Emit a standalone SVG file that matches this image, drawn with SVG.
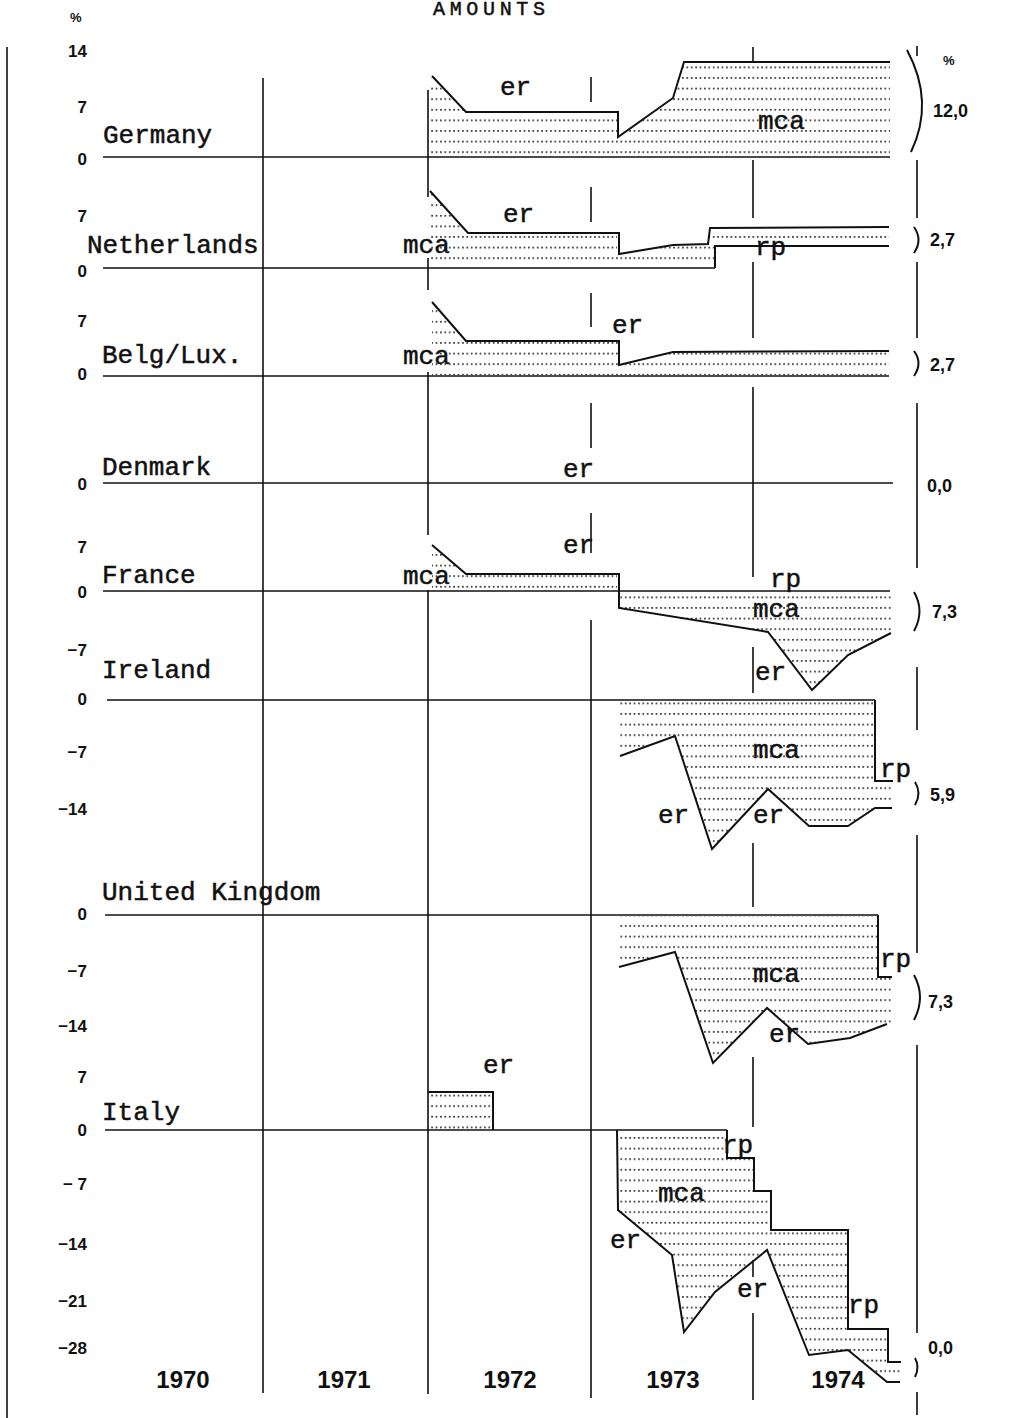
<svg xmlns="http://www.w3.org/2000/svg" width="1010" height="1418" viewBox="0 0 1010 1418">
<defs>
<pattern id="dots" width="4.4" height="10.6" patternUnits="userSpaceOnUse"><rect x="0" y="3" width="1.8" height="1.5" fill="#222"/></pattern>
<style>
.ln{stroke:#111;stroke-width:1.6;fill:none}
.ol{stroke:#111;stroke-width:2;fill:none;stroke-linejoin:miter}
.sh{fill:url(#dots);stroke:none}
.tw{font-family:"Liberation Mono",monospace;font-size:26px;fill:#111;stroke:#111;stroke-width:0.5}
.ax{font-family:"Liberation Sans",Arial,sans-serif;font-weight:bold;font-size:17px;fill:#111;text-anchor:end}
.rt{font-family:"Liberation Sans",Arial,sans-serif;font-weight:bold;font-size:18px;fill:#111}
.yr{font-family:"Liberation Sans",Arial,sans-serif;font-weight:bold;font-size:24px;fill:#111;text-anchor:middle}
</style>
</defs>
<rect width="1010" height="1418" fill="#fff"/>
<text class="tw" x="433" y="15" style="font-size:20px" textLength="112" lengthAdjust="spacing">AMOUNTS</text>
<text class="rt" x="70" y="22" style="font-size:13px">%</text>

<g id="grid">
<path class="ln" d="M7,47V1418"/>
<path class="ln" d="M263,78V1393"/>
<path class="ln" d="M428,90V197M428,258V290M428,372V535M428,590V1394"/>
<path class="ln" d="M591,77V102M591,187V222M591,293V327M591,403V448M591,513V553M591,620V1398"/>
<path class="ln" d="M753,47V62M753,160V218M753,262V338M753,387V577M753,647V693M753,843V907M753,1057V1127M753,1260V1277M753,1313V1400"/>
<path class="ln" d="M917,46V56M917,160V218M917,262V338M917,403V568M917,667V730M917,835V953M917,1045V1333M917,1392V1415"/>
</g>

<g id="germany">
<polygon class="sh" points="431,78 466,112 617,112 617,137 673,98 684,62 890,62 890,156 431,156"/>
<path class="ln" d="M103,157H890"/>
<polyline class="ol" points="432,76 466,112 618,112 618,137 673,98 684,62 890,62"/>
<text class="ax" x="87" y="57">14</text>
<text class="ax" x="87" y="113">7</text>
<text class="ax" x="87" y="165">0</text>
<text class="tw" x="103" y="143">Germany</text>
<text class="tw" x="500" y="95">er</text>
<text class="tw" x="758" y="129">mca</text>
<path class="ol" d="M907,50Q935,102 911,152"/>
<text class="rt" x="943" y="65" style="font-size:13px">%</text>
<text class="rt" x="933" y="117">12,0</text>
</g>

<g id="netherlands">
<polygon class="sh" points="431,193 468,233 617,233 617,254 673,245 708,244 710,228 889,228 889,246 716,246 716,267 431,267"/>
<path class="ln" d="M103,268H715"/>
<polyline class="ol" points="430,191 468,233 619,233 619,254 673,245 708,244 710,228 889,227"/>
<polyline class="ol" points="715,268 715,246 889,246"/>
<text class="ax" x="87" y="222">7</text>
<text class="ax" x="87" y="277">0</text>
<text class="tw" x="87" y="253">Netherlands</text>
<text class="tw" x="503" y="222">er</text>
<text class="tw" x="403" y="253">mca</text>
<text class="tw" x="755" y="255">rp</text>
<path class="ol" d="M914,227Q923,240 914,253"/>
<text class="rt" x="930" y="246">2,7</text>
</g>

<g id="belglux">
<polygon class="sh" points="432,303 466,341 619,341 619,365 673,352 889,351 889,375 432,375"/>
<path class="ln" d="M103,376H889"/>
<polyline class="ol" points="432,302 466,341 619,341 619,365 673,352 889,351"/>
<text class="ax" x="87" y="327">7</text>
<text class="ax" x="87" y="380">0</text>
<text class="tw" x="102" y="363">Belg/Lux.</text>
<text class="tw" x="403" y="364">mca</text>
<text class="tw" x="612" y="333">er</text>
<path class="ol" d="M914,351Q923,363 914,376"/>
<text class="rt" x="930" y="371">2,7</text>
</g>

<g id="denmark">
<path class="ln" d="M103,483H893"/>
<text class="ax" x="87" y="490">0</text>
<text class="tw" x="102" y="475">Denmark</text>
<text class="tw" x="563" y="477">er</text>
<text class="rt" x="927" y="492">0,0</text>
</g>

<g id="france">
<polygon class="sh" points="432,546 466,574 617,574 617,590 432,590"/>
<polygon class="sh" points="619,591 891,591 891,633 848,655 812,690 768,632 619,608"/>
<path class="ln" d="M103,591H890"/>
<polyline class="ol" points="432,545 466,574 619,574 619,608 768,632 812,690 848,655 891,633"/>
<text class="ax" x="87" y="553">7</text>
<text class="ax" x="87" y="598">0</text>
<text class="ax" x="87" y="656">−7</text>
<text class="tw" x="102" y="583">France</text>
<text class="tw" x="403" y="584">mca</text>
<text class="tw" x="563" y="553">er</text>
<text class="tw" x="770" y="587">rp</text>
<text class="tw" x="753" y="617">mca</text>
<text class="tw" x="755" y="680">er</text>
<path class="ol" d="M914,592Q925,611 914,631"/>
<text class="rt" x="932" y="618">7,3</text>
</g>

<g id="ireland">
<polygon class="sh" points="620,701 875,701 875,781 892,781 892,808 875,808 848,826 809,826 768,789 712,849 675,736 620,756"/>
<path class="ln" d="M107,700H875"/>
<polyline class="ol" points="875,700 875,781 893,781"/>
<polyline class="ol" points="620,756 675,736 712,849 768,789 809,826 848,826 875,808 892,808"/>
<text class="ax" x="87" y="705">0</text>
<text class="ax" x="87" y="758">−7</text>
<text class="ax" x="87" y="815">−14</text>
<text class="tw" x="102" y="678">Ireland</text>
<text class="tw" x="753" y="758">mca</text>
<text class="tw" x="880" y="777">rp</text>
<text class="tw" x="658" y="823">er</text>
<text class="tw" x="753" y="823">er</text>
<path class="ol" d="M915,782Q922,793 915,805"/>
<text class="rt" x="930" y="801">5,9</text>
</g>

<g id="uk">
<polygon class="sh" points="619,916 878,916 878,977 892,977 892,1023 887,1024 850,1038 808,1044 767,1008 713,1063 675,952 619,967"/>
<path class="ln" d="M105,915H878"/>
<polyline class="ol" points="878,915 878,977 892,977"/>
<polyline class="ol" points="619,967 675,952 713,1063 767,1008 808,1044 850,1038 887,1024"/>
<text class="ax" x="87" y="920">0</text>
<text class="ax" x="87" y="977">−7</text>
<text class="ax" x="87" y="1032">−14</text>
<text class="tw" x="102" y="900">United Kingdom</text>
<text class="tw" x="880" y="967">rp</text>
<text class="tw" x="753" y="982">mca</text>
<text class="tw" x="769" y="1042">er</text>
<path class="ol" d="M914,975Q926,997 914,1020"/>
<text class="rt" x="928" y="1008">7,3</text>
</g>

<g id="italy">
<rect class="sh" x="429" y="1093" width="64" height="36"/>
<polyline class="ol" points="428,1092 493,1092 493,1130"/>
<polygon class="sh" points="618,1131 727,1131 727,1158 754,1158 754,1191 771,1191 771,1230 848,1230 848,1329 888,1329 888,1362 900,1362 900,1382 887,1382 848,1350 809,1355 767,1250 715,1292 684,1332 672,1255 618,1210"/>
<path class="ln" d="M105,1130H727"/>
<polyline class="ol" points="727,1130 727,1158 754,1158 754,1191 771,1191 771,1230 848,1230 848,1329 888,1329 888,1362 901,1362"/>
<polyline class="ol" points="617,1130 618,1210 672,1255 684,1332 715,1292 767,1250 809,1355 848,1350 887,1382 900,1382"/>
<text class="ax" x="87" y="1083">7</text>
<text class="ax" x="87" y="1136">0</text>
<text class="ax" x="87" y="1190">− 7</text>
<text class="ax" x="87" y="1250">−14</text>
<text class="ax" x="87" y="1307">−21</text>
<text class="ax" x="87" y="1354">−28</text>
<text class="tw" x="102" y="1120">Italy</text>
<text class="tw" x="483" y="1073">er</text>
<text class="tw" x="722" y="1153">rp</text>
<text class="tw" x="658" y="1201">mca</text>
<text class="tw" x="610" y="1248">er</text>
<text class="tw" x="737" y="1297">er</text>
<text class="tw" x="848" y="1313">rp</text>
<path class="ol" d="M915,1358Q920,1367 915,1377"/>
<text class="rt" x="928" y="1354">0,0</text>
</g>

<g id="years">
<text class="yr" x="183" y="1388">1970</text>
<text class="yr" x="344" y="1388">1971</text>
<text class="yr" x="510" y="1388">1972</text>
<text class="yr" x="673" y="1388">1973</text>
<text class="yr" x="838" y="1388">1974</text>
</g>
</svg>
